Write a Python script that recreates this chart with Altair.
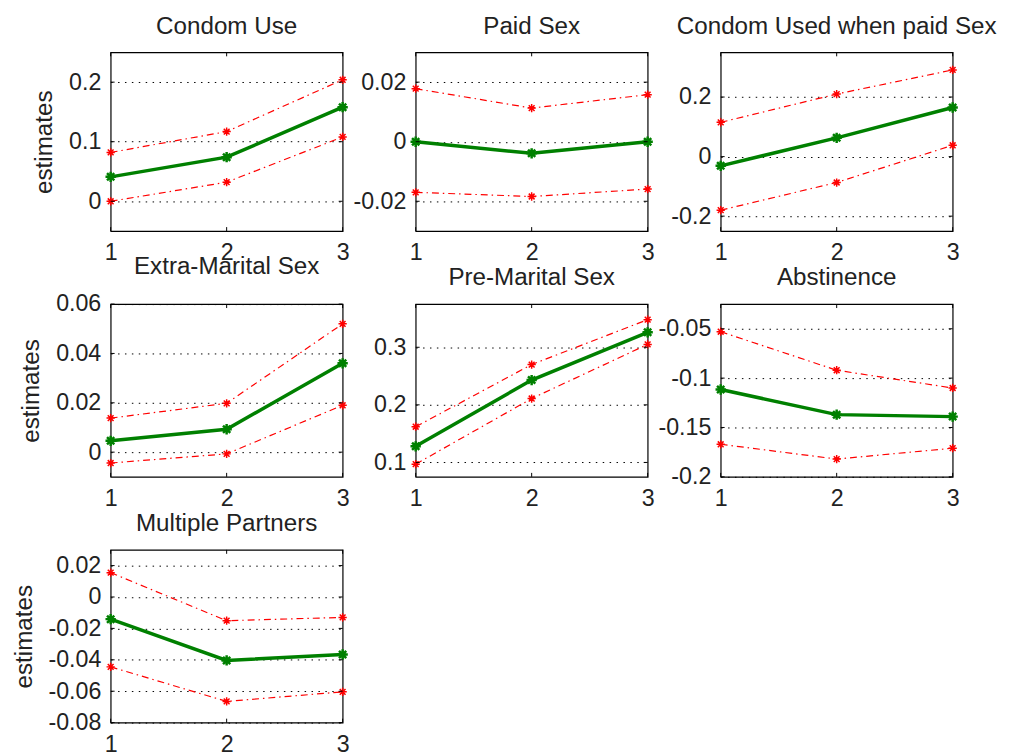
import altair as alt
import pandas as pd

x_vals = [1, 2, 3]

condom_use_est = [0.041, 0.074, 0.158]
condom_use_hi = [0.082, 0.117, 0.204]
condom_use_lo = [0.0, 0.032, 0.108]

paid_sex_est = [0.0, -0.0039, 0.0]
paid_sex_hi = [0.0178, 0.0113, 0.0158]
paid_sex_lo = [-0.017, -0.0184, -0.0159]

condom_paid_est = [-0.031, 0.063, 0.165]
condom_paid_hi = [0.115, 0.21, 0.291]
condom_paid_lo = [-0.18, -0.087, 0.038]

extra_marital_est = [0.0046, 0.0093, 0.036]
extra_marital_hi = [0.0138, 0.0198, 0.052]
extra_marital_lo = [-0.0044, -0.0007, 0.019]

pre_marital_est = [0.128, 0.243, 0.326]
pre_marital_hi = [0.162, 0.270, 0.348]
pre_marital_lo = [0.097, 0.211, 0.305]

abstinence_est = [-0.1115, -0.137, -0.139]
abstinence_hi = [-0.053, -0.092, -0.11]
abstinence_lo = [-0.167, -0.182, -0.171]

multiple_est = [-0.0141, -0.0404, -0.0366]
multiple_hi = [0.0155, -0.0151, -0.013]
multiple_lo = [-0.0445, -0.0665, -0.0604]

titles = ["Condom Use", "Paid Sex", "Condom Used when paid Sex",
          "Extra-Marital Sex", "Pre-Marital Sex", "Abstinence",
          "Multiple Partners"]

y_domains = [[-0.05, 0.25], [-0.03, 0.03], [-0.25, 0.35],
             [-0.01, 0.06], [0.075, 0.375], [-0.2, -0.025],
             [-0.08, 0.03]]
y_ticks = [[0, 0.1, 0.2], [-0.02, 0, 0.02], [-0.2, 0, 0.2],
           [0, 0.02, 0.04, 0.06], [0.1, 0.2, 0.3],
           [-0.2, -0.15, -0.1, -0.05],
           [-0.08, -0.06, -0.04, -0.02, 0, 0.02]]

FONT = "Liberation Sans"
FS = 23.5
FT = 24.5
TXT = "#222222"
STAR = "M-1,0L1,0M0,-1L0,1M-0.7,-0.7L0.7,0.7M-0.7,0.7L0.7,-0.7"


def panel(title, est, hi, lo, domain, ticks, w, h, ylabel):
    df = pd.DataFrame({"x": x_vals * 3, "y": est + hi + lo,
                       "s": ["est"] * 3 + ["hi"] * 3 + ["lo"] * 3})
    yaxis = alt.Axis(values=ticks, grid=True, gridDash=[1.5, 5.5], gridColor="black",
                     gridOpacity=1, gridWidth=1, ticks=False, domain=False,
                     labelPadding=10, labelExpr="'' + datum.value", title=ylabel,
                     titlePadding=12, labelFlush=False, labelOverlap=False,
                     labelFont=FONT, labelFontSize=FS, labelColor=TXT,
                     titleFont=FONT, titleFontSize=FT, titleFontWeight="normal",
                     titleColor=TXT)
    xaxis = alt.Axis(values=x_vals, grid=False, ticks=False, domain=False,
                     labelPadding=10, labelExpr="'' + datum.value", title="",
                     labelFlush=False, labelOverlap=False,
                     labelFont=FONT, labelFontSize=FS, labelColor=TXT)
    ydef = alt.Y("y:Q", scale=alt.Scale(domain=domain, nice=False, zero=False), axis=yaxis)
    xdef = alt.X("x:Q", scale=alt.Scale(domain=[1, 3], nice=False), axis=xaxis)
    base = alt.Chart(df)
    red = base.transform_filter("datum.s != 'est'")
    green = base.transform_filter("datum.s == 'est'")
    red_line = red.mark_line(color="#ff0000", strokeWidth=1.2,
                             strokeDash=[7, 4, 1.5, 4]).encode(x=xdef, y=ydef, detail="s:N")
    red_pts = red.mark_point(shape=STAR, stroke="#ff0000", filled=False, size=70,
                             strokeWidth=1.5, opacity=1).encode(x=xdef, y=ydef)
    green_line = green.mark_line(color="#008000", strokeWidth=3.5).encode(x=xdef, y=ydef)
    green_pts = green.mark_point(shape=STAR, stroke="#008000", filled=False, size=110,
                                 strokeWidth=2.5, opacity=1).encode(x=xdef, y=ydef)
    yt = alt.Chart(pd.DataFrame({"y": ticks}))
    xt = alt.Chart(pd.DataFrame({"x": x_vals}))
    tl = yt.mark_rule(color="black").encode(y=ydef, x=alt.value(0), x2=alt.value(4))
    tr = yt.mark_rule(color="black").encode(y=ydef, x=alt.value(w - 4), x2=alt.value(w))
    tb = xt.mark_rule(color="black").encode(x=xdef, y=alt.value(h - 4), y2=alt.value(h))
    tt = xt.mark_rule(color="black").encode(x=xdef, y=alt.value(0), y2=alt.value(4))
    return alt.layer(red_line, red_pts, green_line, green_pts, tl, tr, tb, tt).properties(
        width=w, height=h,
        title=alt.TitleParams(text=title, fontSize=FT, font=FONT, fontWeight="normal",
                              color=TXT, frame="group", anchor="middle",
                              baseline="alphabetic", offset=-6))


W = 235
H1 = 181
H2 = 175
p1 = panel(titles[0], condom_use_est, condom_use_hi, condom_use_lo, y_domains[0], y_ticks[0], W, H1, "estimates")
p2 = panel(titles[1], paid_sex_est, paid_sex_hi, paid_sex_lo, y_domains[1], y_ticks[1], W, H1, "")
p3 = panel(titles[2], condom_paid_est, condom_paid_hi, condom_paid_lo, y_domains[2], y_ticks[2], W, H1, "")
p4 = panel(titles[3], extra_marital_est, extra_marital_hi, extra_marital_lo, y_domains[3], y_ticks[3], W, H2, "estimates")
p5 = panel(titles[4], pre_marital_est, pre_marital_hi, pre_marital_lo, y_domains[4], y_ticks[4], W, H2, "")
p6 = panel(titles[5], abstinence_est, abstinence_hi, abstinence_lo, y_domains[5], y_ticks[5], W, H2, "")
p7 = panel(titles[6], multiple_est, multiple_hi, multiple_lo, y_domains[6], y_ticks[6], W, H2, "estimates")

chart = alt.concat(p1, p2, p3, p4, p5, p6, p7, columns=3,
                   spacing={"row": 74, "column": 74}, bounds="flush").configure_view(
    stroke="black", strokeWidth=1.2).properties(
    background="white", padding={"left": 2, "top": 0, "right": 5, "bottom": 5})

chart.save("out.html", embed_options={"renderer": "svg", "actions": False})
